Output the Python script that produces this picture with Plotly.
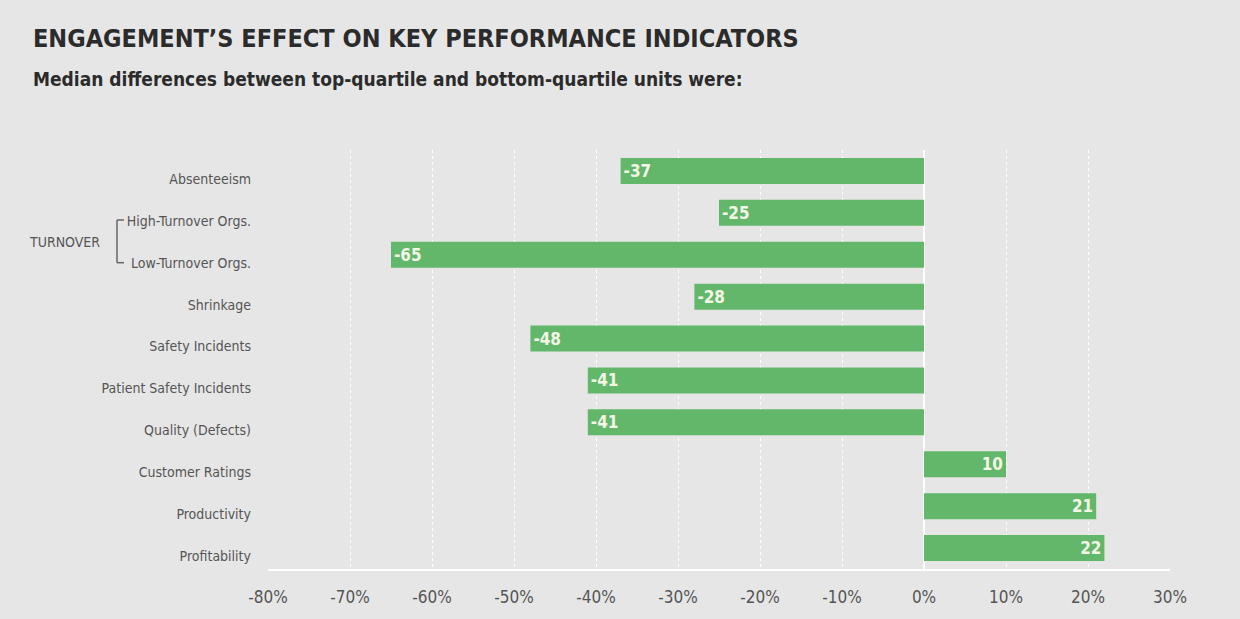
import plotly.graph_objects as go

categories = ["Absenteeism", "High-Turnover Orgs.", "Low-Turnover Orgs.", "Shrinkage",
              "Safety Incidents", "Patient Safety Incidents", "Quality (Defects)",
              "Customer Ratings", "Productivity", "Profitability"]
values = [-37, -25, -65, -28, -48, -41, -41, 10, 21, 22]
tick_vals = [-80, -70, -60, -50, -40, -30, -20, -10, 0, 10, 20, 30]
tick_text = [f"{v}%" for v in tick_vals]

FONT = "DejaVu Sans Condensed, Roboto, sans-serif"
BG = "#e6e6e6"

W, H = 1240, 619
L, R, T, B = 268, 70, 150, 48
PW, PH = W - L - R, H - T - B


def px_x(px):
    return (px - L) / PW


def px_y(py):
    return (H - B - py) / PH


fig = go.Figure()
fig.add_trace(go.Bar(
    y=categories, x=values, orientation="h",
    marker=dict(color="#62b76b", line=dict(width=0)),
    width=0.62,
    text=[str(v) for v in values],
    textposition="inside", insidetextanchor="end",
    textfont=dict(family=FONT, size=17, color="#f4f6e6", weight="bold"),
    textangle=0,
))

fig.update_layout(
    width=W, height=H,
    paper_bgcolor=BG, plot_bgcolor=BG,
    margin=dict(l=L, r=R, t=T, b=B),
    showlegend=False,
    font=dict(family=FONT, color="#555555"),
    xaxis=dict(
        range=[-80, 30], tickvals=tick_vals, ticktext=tick_text,
        showgrid=True, gridcolor="white", griddash="dot", gridwidth=1,
        zeroline=True, zerolinecolor="white", zerolinewidth=2,
        showline=True, linecolor="white", linewidth=2,
        tickfont=dict(family=FONT, size=17, color="#555555"),
        ticks="", ticklabelstandoff=12, fixedrange=True,
    ),
    yaxis=dict(
        categoryorder="array", categoryarray=categories, autorange="reversed",
        showgrid=False, zeroline=False, showline=False, ticks="",
        tickfont=dict(family=FONT, size=14, color="#555555"),
        ticklabelstandoff=16, ticklabelshift=-8, fixedrange=True,
    ),
    annotations=[
        dict(text="<b>ENGAGEMENT’S EFFECT ON KEY PERFORMANCE INDICATORS</b>",
             x=px_x(31), y=px_y(38), xref="paper", yref="paper",
             xanchor="left", yanchor="middle", showarrow=False,
             font=dict(family=FONT, size=25, color="#2b2b2b")),
        dict(text="<b>Median differences between top-quartile and bottom-quartile units were:</b>",
             x=px_x(31), y=px_y(79), xref="paper", yref="paper",
             xanchor="left", yanchor="middle", showarrow=False,
             font=dict(family=FONT, size=19, color="#2b2b2b")),
        dict(text="TURNOVER", x=px_x(102), y=1.7, xref="paper", yref="y",
             xanchor="right", yanchor="middle", showarrow=False,
             font=dict(family=FONT, size=14, color="#555555")),
    ],
)

# bracket for TURNOVER group
bx = px_x(117)
tick = px_x(124) - bx
for shp in [
    dict(x0=bx, x1=bx, y0=1.17, y1=2.19),
    dict(x0=bx, x1=bx + tick, y0=1.17, y1=1.17),
    dict(x0=bx, x1=bx + tick, y0=2.19, y1=2.19),
]:
    fig.add_shape(type="line", xref="paper", yref="y", line=dict(color="#666666", width=1.5), **shp)

fig.write_html("out.html", config={"displayModeBar": False},
               post_script="document.body.style.margin='0';document.body.style.background='#e6e6e6';")
